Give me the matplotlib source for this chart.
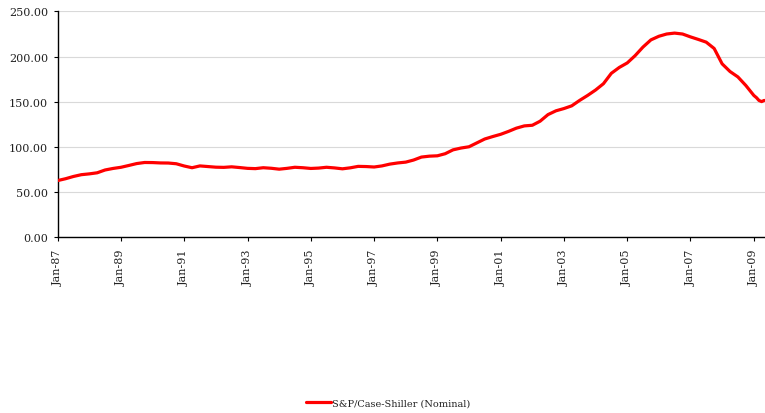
import matplotlib
matplotlib.use("Agg")
import matplotlib.pyplot as plt
import pandas as pd

# Quarterly values (Jan, Apr, Jul, Oct) 1987 - 2008
quarterly_start = "1987-01-01"
quarterly_values = [
    62.8, 64.8, 67.3, 69.3,
    70.2, 71.4, 74.5, 76.2,
    77.5, 79.5, 81.6, 82.8,
    82.7, 82.3, 82.2, 81.4,
    78.9, 77.0, 79.0, 78.3,
    77.6, 77.4, 78.0, 77.2,
    76.3, 76.0, 77.0, 76.4,
    75.4, 76.3, 77.5, 77.0,
    76.2, 76.6, 77.5, 76.8,
    75.8, 76.9, 78.5, 78.3,
    77.8, 79.0, 81.0, 82.3,
    83.2, 85.5, 88.8, 89.8,
    90.2, 92.5, 96.8, 98.8,
    100.2, 104.5, 108.8, 111.5,
    114.0, 117.2, 120.8, 123.3,
    124.0, 128.5, 135.8, 140.0,
    142.5, 145.5, 151.5, 157.0,
    163.0, 170.0, 181.5, 188.0,
    193.0, 201.0, 210.5, 218.5,
    222.5, 225.0, 226.0, 225.0,
    221.8, 219.0, 216.0, 209.0,
    192.0, 183.5, 177.5, 168.0,
]
# Monthly values 2009
monthly_2009_start = "2009-01-01"
monthly_2009_values = [157.0, 154.5, 151.5, 150.2, 151.5]

series_label = "S&P/Case-Shiller (Nominal)"
y_ticks = [0, 50, 100, 150, 200, 250]
x_tick_years = list(range(1987, 2010, 2))

q_dates = pd.date_range(quarterly_start, periods=len(quarterly_values), freq="QS")
m_dates = pd.date_range(monthly_2009_start, periods=len(monthly_2009_values), freq="MS")
dates = list(q_dates) + list(m_dates)
values = quarterly_values + monthly_2009_values

fig = plt.figure(figsize=(7.65, 4.14), dpi=100)
ax = fig.add_axes([0.0754, 0.4244, 0.9246, 0.5456])

ax.plot(dates, values, color="#ff0000", lw=2.3, solid_joinstyle="round",
        solid_capstyle="round", label=series_label, zorder=3)

ax.set_ylim(0, 250)
ax.set_yticks(y_ticks)
ax.set_yticklabels([f"{v:.2f}" for v in y_ticks])
ax.set_xlim(pd.Timestamp("1987-01-01"), pd.Timestamp("2009-05-10"))
ax.set_xticks([pd.Timestamp(f"{y}-01-01") for y in x_tick_years])
ax.set_xticklabels([f"Jan-{y % 100:02d}" for y in x_tick_years], rotation=90)

ax.grid(axis="y", color="#d9d9d9", lw=0.8)
ax.set_axisbelow(True)
for s in ["top", "right"]:
    ax.spines[s].set_visible(False)
for s in ["left", "bottom"]:
    ax.spines[s].set_color("black")
    ax.spines[s].set_linewidth(1.0)
ax.tick_params(axis="both", length=3, width=0.8, color="black",
               labelsize=8, labelcolor="#222222")
ax.tick_params(axis="x", pad=5)
ax.tick_params(axis="y", pad=4)
for lab in ax.get_xticklabels() + ax.get_yticklabels():
    lab.set_family("DejaVu Serif")

leg = fig.legend(loc="center", bbox_to_anchor=(0.507, 0.024), frameon=False,
                 handlelength=2.6, handletextpad=0.1,
                 prop={"family": "DejaVu Serif", "size": 7})
for t in leg.get_texts():
    t.set_color("#222222")

fig.savefig("out.png", dpi=100)
